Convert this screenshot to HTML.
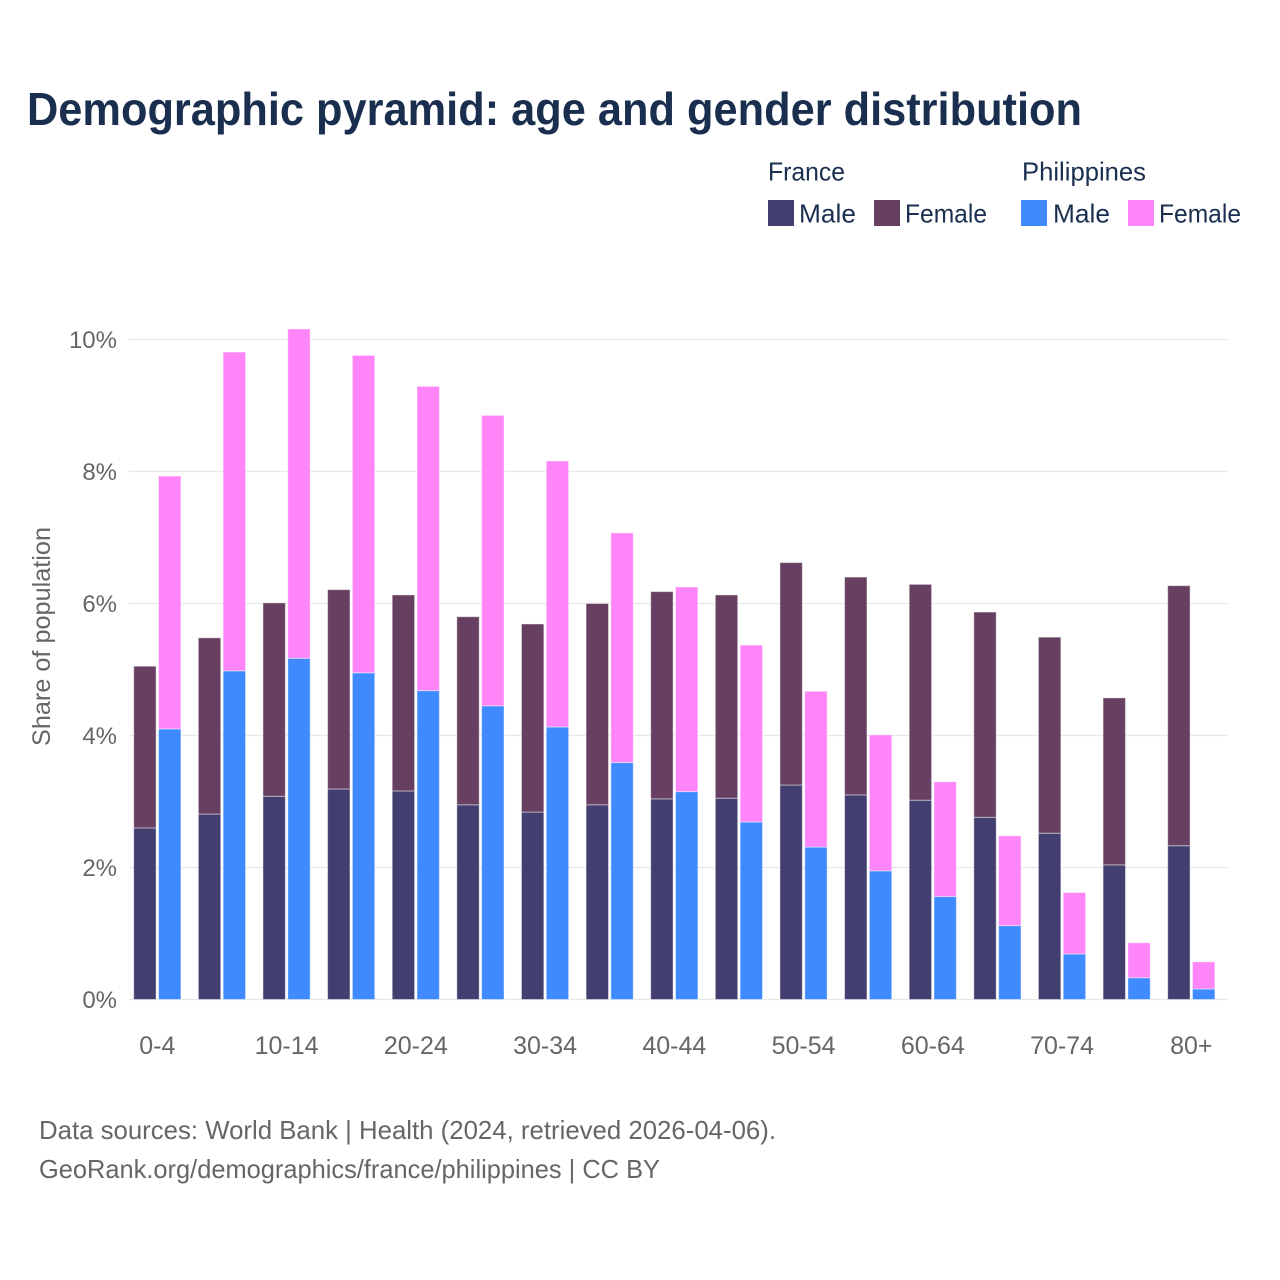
<!DOCTYPE html>
<html lang="en">
<head>
<meta charset="utf-8">
<title>Demographic pyramid: age and gender distribution</title>
<style>
html,body{margin:0;padding:0;background:#fff;}
svg{display:block;font-family:"Liberation Sans",sans-serif;}
</style>
</head>
<body>
<svg id="chart" width="1280" height="1280" viewBox="0 0 1280 1280" xmlns="http://www.w3.org/2000/svg">
<rect width="1280" height="1280" fill="#fff"/>
<text x="27" y="125" font-size="46" font-weight="700" fill="#1a2f4f" textLength="1055" lengthAdjust="spacingAndGlyphs">Demographic pyramid: age and gender distribution</text>
<g font-size="26" fill="#1a2f4f">
<text x="768" y="180.5" textLength="77" lengthAdjust="spacingAndGlyphs">France</text>
<text x="1022" y="180.5" textLength="124" lengthAdjust="spacingAndGlyphs">Philippines</text>
<rect x="768" y="200" width="26" height="26" fill="#423e70"/>
<text x="799" y="222.5" textLength="57" lengthAdjust="spacingAndGlyphs">Male</text>
<rect x="874" y="200" width="26" height="26" fill="#674061"/>
<text x="905" y="222.5" textLength="82" lengthAdjust="spacingAndGlyphs">Female</text>
<rect x="1021" y="200" width="26" height="26" fill="#408aff"/>
<text x="1053" y="222.5" textLength="57" lengthAdjust="spacingAndGlyphs">Male</text>
<rect x="1128" y="200" width="26" height="26" fill="#ff85f8"/>
<text x="1159" y="222.5" textLength="82" lengthAdjust="spacingAndGlyphs">Female</text>
</g>
<g id="grid"></g>
<g id="bars"></g>
<g id="ylabels"></g>
<g id="xlabels"></g>
<text transform="translate(50,746) rotate(-90)" font-size="25" fill="#666" textLength="219" lengthAdjust="spacingAndGlyphs">Share of population</text>
<text x="39" y="1139" font-size="26" fill="#666" textLength="737" lengthAdjust="spacingAndGlyphs">Data sources: World Bank | Health (2024, retrieved 2026-04-06).</text>
<text x="39" y="1178" font-size="26" fill="#666" textLength="621" lengthAdjust="spacingAndGlyphs">GeoRank.org/demographics/france/philippines | CC BY</text>
</svg>
<script>
const categories = ["0-4","5-9","10-14","15-19","20-24","25-29","30-34","35-39","40-44","45-49","50-54","55-59","60-64","65-69","70-74","75-79","80+"];
const franceMale = [2.60,2.81,3.08,3.19,3.16,2.95,2.84,2.95,3.04,3.05,3.25,3.10,3.02,2.76,2.52,2.04,2.33];
const franceFemale = [2.45,2.67,2.93,3.02,2.97,2.85,2.85,3.05,3.14,3.08,3.37,3.30,3.27,3.11,2.97,2.53,3.94];
const philippinesMale = [4.10,4.98,5.17,4.95,4.68,4.45,4.13,3.59,3.15,2.69,2.31,1.95,1.56,1.12,0.69,0.33,0.16];
const philippinesFemale = [3.83,4.83,4.99,4.81,4.61,4.40,4.03,3.48,3.10,2.68,2.36,2.06,1.74,1.36,0.93,0.53,0.41];
const yTicks = [0,2,4,6,8,10];
const xLabelEvery = 2;

const NS = "http://www.w3.org/2000/svg";
const plotLeft = 125, plotRight = 1228, baseY = 999.5, topY = 339.5, yMax = 10;
const barW = 23.4, gap = 1.4;
const xBand = 1098.6;
function xCenter(i){ return plotLeft + (i + 0.5) * (xBand / categories.length); }
function yPos(v){ return baseY - (v / yMax) * (baseY - topY); }

const gridG = document.getElementById("grid");
const ylabG = document.getElementById("ylabels");
yTicks.forEach(function(t){
  const line = document.createElementNS(NS, "line");
  
  
  line.setAttribute("x1", 129);
  line.setAttribute("x2", plotRight);
  line.setAttribute("y1", yPos(t));
  line.setAttribute("y2", yPos(t));
  line.setAttribute("stroke", "#e8e8e8");
  line.setAttribute("stroke-width", "1.2");
  gridG.appendChild(line);
  const lab = document.createElementNS(NS, "text");
  
  
  lab.setAttribute("x", 117);
  lab.setAttribute("y", yPos(t) + 8.5);
  lab.setAttribute("text-anchor", "end");
  lab.setAttribute("font-size", "24");
  lab.setAttribute("fill", "#666");
  lab.textContent = t + "%";
  ylabG.appendChild(lab);
});

const barsG = document.getElementById("bars");
function addBar(x, low, high, color){
  const r = document.createElementNS(NS, "rect");
  
  
  r.setAttribute("x", x);
  r.setAttribute("width", barW - 1);
  r.setAttribute("y", yPos(high));
  r.setAttribute("height", yPos(low) - yPos(high));
  r.setAttribute("fill", color);
  r.setAttribute("stroke", "#fff");
  r.setAttribute("stroke-opacity", "0.45");
  r.setAttribute("stroke-width", "1");
  barsG.appendChild(r);
}
categories.forEach(function(c, i){
  const cx = xCenter(i);
  const xF = cx - gap/2 - barW + 0.5;
  const xP = cx + gap/2 + 0.5;
  addBar(xF, 0, franceMale[i], "#423e70");
  addBar(xF, franceMale[i], franceMale[i] + franceFemale[i], "#674061");
  addBar(xP, 0, philippinesMale[i], "#408aff");
  addBar(xP, philippinesMale[i], philippinesMale[i] + philippinesFemale[i], "#ff85f8");
});

const xlabG = document.getElementById("xlabels");
categories.forEach(function(c, i){
  if (i % xLabelEvery !== 0) return;
  const lab = document.createElementNS(NS, "text");
  
  
  lab.setAttribute("x", xCenter(i));
  lab.setAttribute("y", 1054);
  lab.setAttribute("text-anchor", "middle");
  lab.setAttribute("font-size", "25");
  lab.setAttribute("fill", "#666");
  lab.textContent = c;
  xlabG.appendChild(lab);
});
</script>
</body>
</html>
